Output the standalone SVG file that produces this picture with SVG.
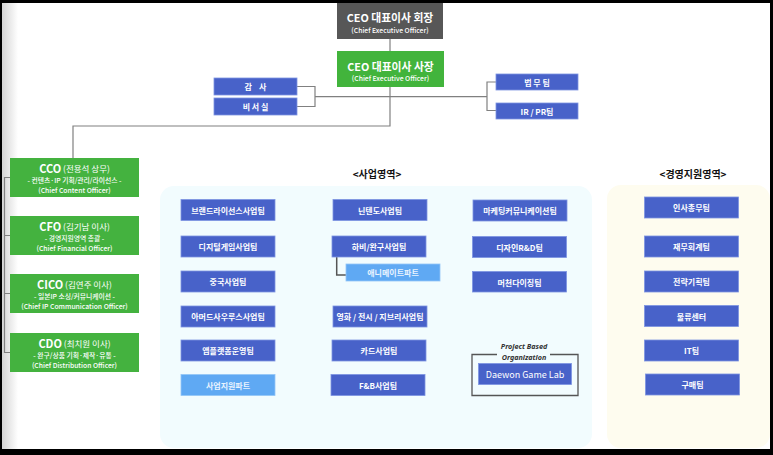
<svg xmlns="http://www.w3.org/2000/svg" width="773" height="455" viewBox="0 0 773 455">
<defs>
<style>
.b{fill:#4862C9;stroke:#7d95e2;stroke-width:0.8}
.lb{fill:#5FA9F3;stroke:#93c6f7;stroke-width:0.8}
.g{fill:#44B23F}
.t{font-family:"Noto Sans CJK KR","Noto Sans",sans-serif;fill:#fff;font-size:8px;font-weight:bold;text-anchor:middle;dominant-baseline:central}
.tl{font-family:"Noto Sans CJK KR","Noto Sans",sans-serif;fill:#eaf4ff;font-size:8px;font-weight:bold;text-anchor:middle;dominant-baseline:central}
.w{font-family:"Noto Sans CJK KR","Noto Sans",sans-serif;fill:#fff;text-anchor:middle;dominant-baseline:central}
.s{font-size:6.8px;font-weight:500}
.c{stroke:#808080;stroke-width:1.2;fill:none}
.sec{font-family:"Noto Sans CJK KR","Noto Sans",sans-serif;font-size:10px;font-weight:bold;fill:#111;text-anchor:middle;dominant-baseline:central}
.pb{font-family:"Noto Sans","Liberation Sans",sans-serif;font-size:7.2px;font-style:italic;font-weight:bold;fill:#333;text-anchor:middle;dominant-baseline:central}
</style>
<linearGradient id="lg" x1="0" y1="0" x2="1" y2="0">
<stop offset="0" stop-color="#d4d4d4"/>
<stop offset="1" stop-color="#ffffff"/>
</linearGradient>
</defs>
<rect width="773" height="455" fill="#ffffff"/>
<rect x="2" y="0" width="16" height="455" fill="url(#lg)"/>
<rect x="160" y="186" width="432" height="262" rx="14" fill="#F2FCFE"/>
<rect x="607" y="185" width="163" height="263" rx="14" fill="#FEFCEF"/>
<text class="sec" x="377" y="173">&lt;사업영역&gt;</text>
<text class="sec" x="693" y="173">&lt;경영지원영역&gt;</text>

<g id="connectors">
<path class="c" d="M390,39 V51"/>
<path class="c" d="M390,87 V126 H73 V158"/>
<path class="c" d="M297,86.5 H315 V106.5 H297 M315,96.7 H487 M496,82 H487 V110.5 H496"/>
<path class="c" d="M10,177.5 H4.5 V352.5 H10 M4.5,235.5 H10 M4.5,293.5 H10"/>
<path d="M336.7,257 V275 H346" fill="none" stroke="#555" stroke-width="1.5"/>
<path d="M497,354.5 H472 V395.5 H578 V354.5 H550" fill="none" stroke="#555" stroke-width="1.3"/>
</g>

<g id="ceo-chairman">
<rect x="337" y="0" width="106" height="39" fill="#575757"/>
<text class="w" x="390" y="17" font-size="10.8" font-weight="bold">CEO 대표이사 회장</text>
<text class="w s" x="390" y="30">(Chief Executive Officer)</text>
</g>
<g id="ceo-president">
<rect x="337" y="51" width="107" height="36" fill="#42B43C"/>
<text class="w" x="390.5" y="66" font-size="10.8" font-weight="bold">CEO 대표이사 사장</text>
<text class="w s" x="390.5" y="78">(Chief Executive Officer)</text>
</g>
<g id="audit"><rect class="b" x="214" y="78" width="83" height="17"/><text class="t" x="255.5" y="86.5" xml:space="preserve">감    사</text></g>
<g id="secretary"><rect class="b" x="214" y="98" width="83" height="17"/><text class="t" x="255.5" y="106.5">비 서 실</text></g>
<g id="legal"><rect class="b" x="496" y="74" width="82" height="16"/><text class="t" x="537" y="82">법 무 팀</text></g>
<g id="irpr"><rect class="b" x="496" y="103" width="82" height="16"/><text class="t" x="537" y="111">IR / PR팀</text></g>

<g id="cco">
<rect class="g" x="10" y="158" width="129" height="39"/>
<text class="w" x="74.5" y="167.5"><tspan font-size="11" font-weight="bold">CCO</tspan><tspan font-size="8.5"> (전용석 상무)</tspan></text>
<text class="w s" x="74.5" y="179.5">- 컨텐츠·IP 기획/관리/라이선스 -</text>
<text class="w s" x="74.5" y="189.5">(Chief Content Officer)</text>
</g>
<g id="cfo">
<rect class="g" x="10" y="216" width="129" height="39"/>
<text class="w" x="74.5" y="225.5"><tspan font-size="11" font-weight="bold">CFO</tspan><tspan font-size="8.5"> (김기남 이사)</tspan></text>
<text class="w s" x="74.5" y="237.5">- 경영지원영역 총괄 -</text>
<text class="w s" x="74.5" y="247.5">(Chief Financial Officer)</text>
</g>
<g id="cico">
<rect class="g" x="10" y="274" width="129" height="39"/>
<text class="w" x="74.5" y="283.5"><tspan font-size="11" font-weight="bold">CICO</tspan><tspan font-size="8.5"> (김연주 이사)</tspan></text>
<text class="w s" x="74.5" y="295.5">- 일본IP 소싱/커뮤니케이션 -</text>
<text class="w s" x="74.5" y="305.5">(Chief IP Communication Officer)</text>
</g>
<g id="cdo">
<rect class="g" x="10" y="333" width="129" height="39"/>
<text class="w" x="74.5" y="342.5"><tspan font-size="11" font-weight="bold">CDO</tspan><tspan font-size="8.5"> (최치원 이사)</tspan></text>
<text class="w s" x="74.5" y="354.5">- 완구/상품 기획·제작·유통 -</text>
<text class="w s" x="74.5" y="364.5">(Chief Distribution Officer)</text>
</g>

<g id="brand"><rect class="b" x="181" y="199.5" width="94" height="21"/><text class="t" x="228" y="210">브랜드라이선스사업팀</text></g>
<g id="digital"><rect class="b" x="181" y="236" width="94" height="21"/><text class="t" x="228" y="246.5">디지털게임사업팀</text></g>
<g id="china"><rect class="b" x="181" y="271" width="94" height="21"/><text class="t" x="228" y="281.5">중국사업팀</text></g>
<g id="armored"><rect class="b" x="181" y="306" width="94" height="21"/><text class="t" x="228" y="316.5">아머드사우루스사업팀</text></g>
<g id="app"><rect class="b" x="181" y="340" width="94" height="21"/><text class="t" x="228" y="350.5">앱플랫폼운영팀</text></g>
<g id="support-part"><rect class="lb" x="181" y="374.5" width="94" height="21"/><text class="tl" x="228" y="385">사업지원파트</text></g>

<g id="nintendo"><rect class="b" x="333" y="199.5" width="94" height="21"/><text class="t" x="380" y="210">닌텐도사업팀</text></g>
<g id="hobby"><rect class="b" x="332" y="236" width="94" height="21"/><text class="t" x="379" y="246.5">하비/완구사업팀</text></g>
<g id="animate"><rect class="lb" x="346" y="264" width="94" height="17"/><text class="tl" x="393" y="272.5">애니메이트파트</text></g>
<g id="movie"><rect class="b" x="333" y="306" width="94" height="21"/><text class="t" x="380" y="316.5">영화 / 전시 / 지브리사업팀</text></g>
<g id="card"><rect class="b" x="332" y="340" width="94" height="21"/><text class="t" x="379" y="350.5">카드사업팀</text></g>
<g id="fnb"><rect class="b" x="331" y="374.5" width="94" height="21"/><text class="t" x="378" y="385">F&amp;B사업팀</text></g>

<g id="marketing"><rect class="b" x="473" y="200" width="94" height="21"/><text class="t" x="520" y="210.5">마케팅커뮤니케이션팀</text></g>
<g id="design"><rect class="b" x="472.5" y="236.5" width="94" height="21"/><text class="t" x="519.5" y="247">디자인R&amp;D팀</text></g>
<g id="merch"><rect class="b" x="472.5" y="271.5" width="94" height="20.5"/><text class="t" x="519.5" y="282">머천다이징팀</text></g>
<g id="project-based">
<text class="pb" x="524" y="346">Project Based</text>
<text class="pb" x="524" y="356.5">Organization</text>
</g>
<g id="daewon"><rect class="b" x="478.5" y="363.5" width="93" height="21"/><text class="w" x="525" y="374" font-size="9">Daewon Game Lab</text></g>

<g id="hr"><rect class="b" x="644.5" y="197" width="94" height="21"/><text class="t" x="691.5" y="207.5">인사총무팀</text></g>
<g id="finance"><rect class="b" x="644.5" y="236" width="94" height="21"/><text class="t" x="691.5" y="246.5">재무회계팀</text></g>
<g id="strategy"><rect class="b" x="644.5" y="271" width="94" height="21"/><text class="t" x="691.5" y="281.5">전략기획팀</text></g>
<g id="logistics"><rect class="b" x="644.5" y="305.5" width="94" height="21"/><text class="t" x="691.5" y="316">물류센터</text></g>
<g id="it"><rect class="b" x="644.5" y="340" width="94" height="21"/><text class="t" x="691.5" y="350.5">IT팀</text></g>
<g id="purchase"><rect class="b" x="645.5" y="374" width="94" height="21"/><text class="t" x="692.5" y="384.5">구매팀</text></g>

<rect x="0" y="0" width="773" height="3" fill="#000"/>
<rect x="0" y="0" width="2" height="455" fill="#000"/>
<rect x="770" y="0" width="3" height="455" fill="#000"/>
<rect x="0" y="449" width="773" height="6" fill="#000"/>
</svg>
